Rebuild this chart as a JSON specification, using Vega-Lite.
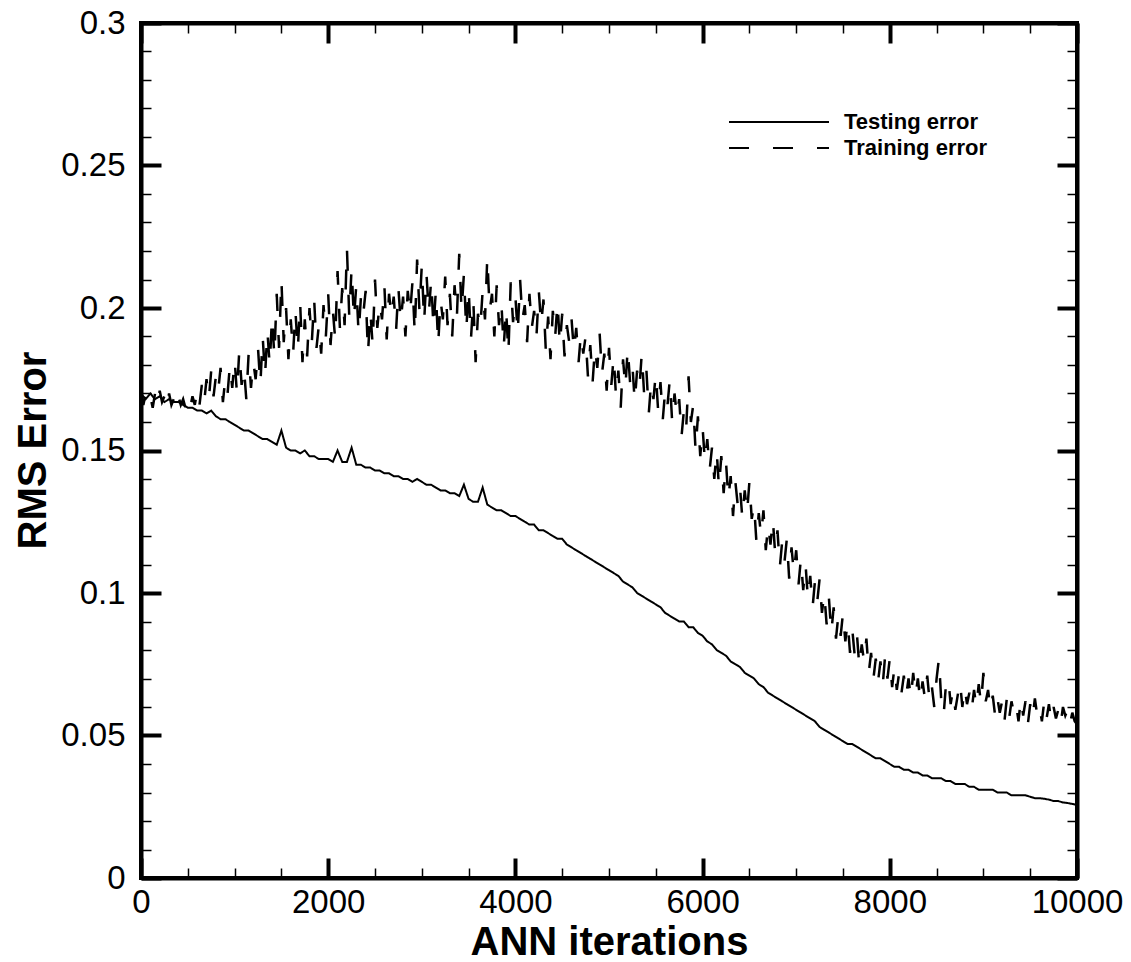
{
  "$schema": "https://vega.github.io/schema/vega-lite/v6.json",
  "width": 936,
  "height": 855,
  "autosize": {"type": "none"},
  "padding": {"left": 141, "top": 23, "right": 54, "bottom": 84},
  "background": "white",
  "config": {
    "view": {"stroke": "black", "strokeWidth": 4},
    "font": "Liberation Sans"
  },
  "datasets": {
    "test": [
      {"it":0,"e":0.170},{"it":50,"e":0.168},{"it":100,"e":0.170},{"it":150,"e":0.168},{"it":200,"e":0.169},{"it":250,"e":0.167},{"it":300,"e":0.168},{"it":350,"e":0.167},{"it":400,"e":0.167},{"it":450,"e":0.166},
      {"it":500,"e":0.165},{"it":550,"e":0.165},{"it":600,"e":0.164},{"it":650,"e":0.164},{"it":700,"e":0.163},{"it":750,"e":0.164},{"it":800,"e":0.162},{"it":850,"e":0.161},{"it":900,"e":0.161},{"it":950,"e":0.160},
      {"it":1000,"e":0.159},{"it":1050,"e":0.158},{"it":1100,"e":0.157},{"it":1150,"e":0.157},{"it":1200,"e":0.156},{"it":1250,"e":0.155},{"it":1300,"e":0.154},{"it":1350,"e":0.154},{"it":1400,"e":0.153},{"it":1450,"e":0.152},
      {"it":1500,"e":0.157},{"it":1550,"e":0.151},{"it":1600,"e":0.150},{"it":1650,"e":0.150},{"it":1700,"e":0.149},{"it":1750,"e":0.150},{"it":1800,"e":0.148},{"it":1850,"e":0.148},{"it":1900,"e":0.147},{"it":1950,"e":0.147},
      {"it":2000,"e":0.147},{"it":2050,"e":0.146},{"it":2100,"e":0.150},{"it":2150,"e":0.146},{"it":2200,"e":0.146},{"it":2250,"e":0.151},{"it":2300,"e":0.145},{"it":2350,"e":0.145},{"it":2400,"e":0.144},{"it":2450,"e":0.144},
      {"it":2500,"e":0.143},{"it":2550,"e":0.143},{"it":2600,"e":0.142},{"it":2650,"e":0.142},{"it":2700,"e":0.141},{"it":2750,"e":0.141},{"it":2800,"e":0.140},{"it":2850,"e":0.140},{"it":2900,"e":0.139},{"it":2950,"e":0.140},
      {"it":3000,"e":0.139},{"it":3050,"e":0.138},{"it":3100,"e":0.138},{"it":3150,"e":0.137},{"it":3200,"e":0.136},{"it":3250,"e":0.136},{"it":3300,"e":0.135},{"it":3350,"e":0.135},{"it":3400,"e":0.134},{"it":3450,"e":0.138},
      {"it":3500,"e":0.133},{"it":3550,"e":0.132},{"it":3600,"e":0.132},{"it":3650,"e":0.137},{"it":3700,"e":0.131},{"it":3750,"e":0.130},{"it":3800,"e":0.129},{"it":3850,"e":0.129},{"it":3900,"e":0.128},{"it":3950,"e":0.127},
      {"it":4000,"e":0.127},{"it":4050,"e":0.126},{"it":4100,"e":0.125},{"it":4150,"e":0.124},{"it":4200,"e":0.124},{"it":4250,"e":0.122},{"it":4300,"e":0.122},{"it":4350,"e":0.121},{"it":4400,"e":0.120},{"it":4450,"e":0.119},
      {"it":4500,"e":0.119},{"it":4550,"e":0.117},{"it":4600,"e":0.116},{"it":4650,"e":0.115},{"it":4700,"e":0.114},{"it":4750,"e":0.113},{"it":4800,"e":0.112},{"it":4850,"e":0.111},{"it":4900,"e":0.110},{"it":4950,"e":0.109},
      {"it":5000,"e":0.108},{"it":5050,"e":0.107},{"it":5100,"e":0.106},{"it":5150,"e":0.104},{"it":5200,"e":0.103},{"it":5250,"e":0.102},{"it":5300,"e":0.100},{"it":5350,"e":0.099},{"it":5400,"e":0.098},{"it":5450,"e":0.097},
      {"it":5500,"e":0.096},{"it":5550,"e":0.095},{"it":5600,"e":0.093},{"it":5650,"e":0.092},{"it":5700,"e":0.091},{"it":5750,"e":0.090},{"it":5800,"e":0.090},{"it":5850,"e":0.088},{"it":5900,"e":0.088},{"it":5950,"e":0.086},
      {"it":6000,"e":0.085},{"it":6050,"e":0.083},{"it":6100,"e":0.082},{"it":6150,"e":0.080},{"it":6200,"e":0.079},{"it":6250,"e":0.078},{"it":6300,"e":0.076},{"it":6350,"e":0.075},{"it":6400,"e":0.074},{"it":6450,"e":0.072},
      {"it":6500,"e":0.071},{"it":6550,"e":0.070},{"it":6600,"e":0.068},{"it":6650,"e":0.067},{"it":6700,"e":0.065},{"it":6750,"e":0.064},{"it":6800,"e":0.063},{"it":6850,"e":0.062},{"it":6900,"e":0.061},{"it":6950,"e":0.060},
      {"it":7000,"e":0.059},{"it":7050,"e":0.058},{"it":7100,"e":0.057},{"it":7150,"e":0.056},{"it":7200,"e":0.055},{"it":7250,"e":0.053},{"it":7300,"e":0.052},{"it":7350,"e":0.051},{"it":7400,"e":0.050},{"it":7450,"e":0.049},
      {"it":7500,"e":0.048},{"it":7550,"e":0.047},{"it":7600,"e":0.047},{"it":7650,"e":0.046},{"it":7700,"e":0.045},{"it":7750,"e":0.044},{"it":7800,"e":0.043},{"it":7850,"e":0.042},{"it":7900,"e":0.042},{"it":7950,"e":0.041},
      {"it":8000,"e":0.040},{"it":8050,"e":0.039},{"it":8100,"e":0.039},{"it":8150,"e":0.038},{"it":8200,"e":0.038},{"it":8250,"e":0.037},{"it":8300,"e":0.037},{"it":8350,"e":0.036},{"it":8400,"e":0.036},{"it":8450,"e":0.035},
      {"it":8500,"e":0.035},{"it":8550,"e":0.035},{"it":8600,"e":0.034},{"it":8650,"e":0.034},{"it":8700,"e":0.033},{"it":8750,"e":0.033},{"it":8800,"e":0.033},{"it":8850,"e":0.032},{"it":8900,"e":0.032},{"it":8950,"e":0.031},
      {"it":9000,"e":0.031},{"it":9050,"e":0.031},{"it":9100,"e":0.031},{"it":9150,"e":0.030},{"it":9200,"e":0.030},{"it":9250,"e":0.030},{"it":9300,"e":0.029},{"it":9350,"e":0.029},{"it":9400,"e":0.029},{"it":9450,"e":0.029},
      {"it":9500,"e":0.0285},{"it":9550,"e":0.028},{"it":9600,"e":0.028},{"it":9650,"e":0.0278},{"it":9700,"e":0.0275},{"it":9750,"e":0.027},{"it":9800,"e":0.027},{"it":9850,"e":0.0265},{"it":9900,"e":0.0263},{"it":9950,"e":0.026},{"it":10000,"e":0.0256}
    ],
    "train": [
      {"it":0,"e":0.170},{"it":25,"e":0.166},{"it":50,"e":0.170},{"it":75,"e":0.167},{"it":100,"e":0.169},{"it":125,"e":0.165},{"it":150,"e":0.170},{"it":175,"e":0.166},{"it":200,"e":0.171},{"it":225,"e":0.167},
      {"it":250,"e":0.169},{"it":275,"e":0.165},{"it":300,"e":0.170},{"it":325,"e":0.166},{"it":350,"e":0.168},{"it":375,"e":0.165},{"it":400,"e":0.169},{"it":425,"e":0.166},{"it":450,"e":0.168},{"it":475,"e":0.165},
      {"it":500,"e":0.168},{"it":525,"e":0.165},{"it":550,"e":0.169},{"it":575,"e":0.166},{"it":600,"e":0.171},{"it":625,"e":0.166},{"it":650,"e":0.173},{"it":675,"e":0.167},{"it":700,"e":0.175},{"it":725,"e":0.168},
      {"it":750,"e":0.178},{"it":775,"e":0.169},{"it":800,"e":0.176},{"it":825,"e":0.171},{"it":850,"e":0.179},{"it":875,"e":0.167},{"it":900,"e":0.175},{"it":925,"e":0.170},{"it":950,"e":0.180},{"it":975,"e":0.172},
      {"it":1000,"e":0.182},{"it":1025,"e":0.170},{"it":1050,"e":0.185},{"it":1075,"e":0.173},{"it":1100,"e":0.179},{"it":1125,"e":0.168},{"it":1150,"e":0.184},{"it":1175,"e":0.172},{"it":1200,"e":0.181},{"it":1225,"e":0.175},
      {"it":1250,"e":0.186},{"it":1275,"e":0.173},{"it":1300,"e":0.190},{"it":1325,"e":0.176},{"it":1350,"e":0.192},{"it":1375,"e":0.180},{"it":1400,"e":0.197},{"it":1425,"e":0.183},{"it":1450,"e":0.205},{"it":1475,"e":0.186},
      {"it":1500,"e":0.210},{"it":1525,"e":0.188},{"it":1550,"e":0.200},{"it":1575,"e":0.182},{"it":1600,"e":0.196},{"it":1625,"e":0.184},{"it":1650,"e":0.199},{"it":1675,"e":0.185},{"it":1700,"e":0.202},{"it":1725,"e":0.181},
      {"it":1750,"e":0.196},{"it":1775,"e":0.183},{"it":1800,"e":0.200},{"it":1825,"e":0.188},{"it":1850,"e":0.203},{"it":1875,"e":0.186},{"it":1900,"e":0.194},{"it":1925,"e":0.184},{"it":1950,"e":0.201},{"it":1975,"e":0.190},
      {"it":2000,"e":0.205},{"it":2025,"e":0.187},{"it":2050,"e":0.199},{"it":2075,"e":0.189},{"it":2100,"e":0.213},{"it":2125,"e":0.193},{"it":2150,"e":0.207},{"it":2175,"e":0.194},{"it":2200,"e":0.221},{"it":2225,"e":0.197},
      {"it":2250,"e":0.214},{"it":2275,"e":0.196},{"it":2300,"e":0.208},{"it":2325,"e":0.191},{"it":2350,"e":0.204},{"it":2375,"e":0.198},{"it":2400,"e":0.206},{"it":2425,"e":0.184},{"it":2450,"e":0.199},{"it":2475,"e":0.187},
      {"it":2500,"e":0.210},{"it":2525,"e":0.193},{"it":2550,"e":0.202},{"it":2575,"e":0.196},{"it":2600,"e":0.208},{"it":2625,"e":0.189},{"it":2650,"e":0.205},{"it":2675,"e":0.197},{"it":2700,"e":0.204},{"it":2725,"e":0.192},
      {"it":2750,"e":0.207},{"it":2775,"e":0.195},{"it":2800,"e":0.204},{"it":2825,"e":0.190},{"it":2850,"e":0.206},{"it":2875,"e":0.198},{"it":2900,"e":0.209},{"it":2925,"e":0.191},{"it":2950,"e":0.217},{"it":2975,"e":0.199},
      {"it":3000,"e":0.215},{"it":3025,"e":0.195},{"it":3050,"e":0.212},{"it":3075,"e":0.198},{"it":3100,"e":0.210},{"it":3125,"e":0.193},{"it":3150,"e":0.206},{"it":3175,"e":0.187},{"it":3200,"e":0.203},{"it":3225,"e":0.196},
      {"it":3250,"e":0.211},{"it":3275,"e":0.194},{"it":3300,"e":0.205},{"it":3325,"e":0.190},{"it":3350,"e":0.208},{"it":3375,"e":0.197},{"it":3400,"e":0.219},{"it":3425,"e":0.199},{"it":3450,"e":0.212},{"it":3475,"e":0.192},
      {"it":3500,"e":0.207},{"it":3525,"e":0.189},{"it":3550,"e":0.203},{"it":3575,"e":0.181},{"it":3600,"e":0.198},{"it":3625,"e":0.193},{"it":3650,"e":0.206},{"it":3675,"e":0.196},{"it":3700,"e":0.218},{"it":3725,"e":0.199},
      {"it":3750,"e":0.205},{"it":3775,"e":0.190},{"it":3800,"e":0.208},{"it":3825,"e":0.194},{"it":3850,"e":0.202},{"it":3875,"e":0.186},{"it":3900,"e":0.200},{"it":3925,"e":0.184},{"it":3950,"e":0.209},{"it":3975,"e":0.195},
      {"it":4000,"e":0.204},{"it":4025,"e":0.191},{"it":4050,"e":0.210},{"it":4075,"e":0.196},{"it":4100,"e":0.201},{"it":4125,"e":0.188},{"it":4150,"e":0.205},{"it":4175,"e":0.193},{"it":4200,"e":0.199},{"it":4225,"e":0.190},
      {"it":4250,"e":0.206},{"it":4275,"e":0.194},{"it":4300,"e":0.203},{"it":4325,"e":0.185},{"it":4350,"e":0.197},{"it":4375,"e":0.182},{"it":4400,"e":0.199},{"it":4425,"e":0.190},{"it":4450,"e":0.202},{"it":4475,"e":0.187},
      {"it":4500,"e":0.198},{"it":4525,"e":0.183},{"it":4550,"e":0.194},{"it":4575,"e":0.188},{"it":4600,"e":0.196},{"it":4625,"e":0.185},{"it":4650,"e":0.193},{"it":4675,"e":0.181},{"it":4700,"e":0.191},{"it":4725,"e":0.184},
      {"it":4750,"e":0.190},{"it":4775,"e":0.176},{"it":4800,"e":0.187},{"it":4825,"e":0.174},{"it":4850,"e":0.186},{"it":4875,"e":0.179},{"it":4900,"e":0.191},{"it":4925,"e":0.177},{"it":4950,"e":0.184},{"it":4975,"e":0.171},
      {"it":5000,"e":0.186},{"it":5025,"e":0.173},{"it":5050,"e":0.183},{"it":5075,"e":0.169},{"it":5100,"e":0.178},{"it":5125,"e":0.165},{"it":5150,"e":0.182},{"it":5175,"e":0.172},{"it":5200,"e":0.186},{"it":5225,"e":0.174},
      {"it":5250,"e":0.180},{"it":5275,"e":0.167},{"it":5300,"e":0.178},{"it":5325,"e":0.172},{"it":5350,"e":0.184},{"it":5375,"e":0.170},{"it":5400,"e":0.178},{"it":5425,"e":0.163},{"it":5450,"e":0.174},{"it":5475,"e":0.168},
      {"it":5500,"e":0.177},{"it":5525,"e":0.164},{"it":5550,"e":0.174},{"it":5575,"e":0.161},{"it":5600,"e":0.171},{"it":5625,"e":0.166},{"it":5650,"e":0.175},{"it":5675,"e":0.160},{"it":5700,"e":0.170},{"it":5725,"e":0.162},
      {"it":5750,"e":0.168},{"it":5775,"e":0.155},{"it":5800,"e":0.164},{"it":5825,"e":0.158},{"it":5850,"e":0.176},{"it":5875,"e":0.160},{"it":5900,"e":0.166},{"it":5925,"e":0.150},{"it":5950,"e":0.162},{"it":5975,"e":0.148},
      {"it":6000,"e":0.158},{"it":6025,"e":0.146},{"it":6050,"e":0.154},{"it":6075,"e":0.143},{"it":6100,"e":0.151},{"it":6125,"e":0.140},{"it":6150,"e":0.150},{"it":6175,"e":0.137},{"it":6200,"e":0.148},{"it":6225,"e":0.135},
      {"it":6250,"e":0.146},{"it":6275,"e":0.133},{"it":6300,"e":0.141},{"it":6325,"e":0.127},{"it":6350,"e":0.139},{"it":6375,"e":0.131},{"it":6400,"e":0.137},{"it":6425,"e":0.126},{"it":6450,"e":0.136},{"it":6475,"e":0.128},
      {"it":6500,"e":0.139},{"it":6525,"e":0.126},{"it":6550,"e":0.131},{"it":6575,"e":0.118},{"it":6600,"e":0.128},{"it":6625,"e":0.120},{"it":6650,"e":0.129},{"it":6675,"e":0.115},{"it":6700,"e":0.124},{"it":6725,"e":0.117},
      {"it":6750,"e":0.126},{"it":6775,"e":0.114},{"it":6800,"e":0.122},{"it":6825,"e":0.109},{"it":6850,"e":0.118},{"it":6875,"e":0.111},{"it":6900,"e":0.119},{"it":6925,"e":0.105},{"it":6950,"e":0.116},{"it":6975,"e":0.107},
      {"it":7000,"e":0.115},{"it":7025,"e":0.103},{"it":7050,"e":0.112},{"it":7075,"e":0.101},{"it":7100,"e":0.110},{"it":7125,"e":0.098},{"it":7150,"e":0.106},{"it":7175,"e":0.095},{"it":7200,"e":0.104},{"it":7225,"e":0.097},
      {"it":7250,"e":0.105},{"it":7275,"e":0.093},{"it":7300,"e":0.100},{"it":7325,"e":0.089},{"it":7350,"e":0.098},{"it":7375,"e":0.086},{"it":7400,"e":0.095},{"it":7425,"e":0.084},{"it":7450,"e":0.092},{"it":7475,"e":0.085},
      {"it":7500,"e":0.093},{"it":7525,"e":0.083},{"it":7550,"e":0.090},{"it":7575,"e":0.079},{"it":7600,"e":0.087},{"it":7625,"e":0.078},{"it":7650,"e":0.085},{"it":7675,"e":0.074},{"it":7700,"e":0.082},{"it":7725,"e":0.076},
      {"it":7750,"e":0.084},{"it":7775,"e":0.072},{"it":7800,"e":0.079},{"it":7825,"e":0.070},{"it":7850,"e":0.077},{"it":7875,"e":0.069},{"it":7900,"e":0.076},{"it":7925,"e":0.068},{"it":7950,"e":0.078},{"it":7975,"e":0.070},
      {"it":8000,"e":0.077},{"it":8025,"e":0.067},{"it":8050,"e":0.074},{"it":8075,"e":0.066},{"it":8100,"e":0.072},{"it":8125,"e":0.065},{"it":8150,"e":0.071},{"it":8175,"e":0.064},{"it":8200,"e":0.070},{"it":8225,"e":0.063},
      {"it":8250,"e":0.072},{"it":8275,"e":0.064},{"it":8300,"e":0.070},{"it":8325,"e":0.062},{"it":8350,"e":0.069},{"it":8375,"e":0.063},{"it":8400,"e":0.071},{"it":8425,"e":0.062},{"it":8450,"e":0.067},{"it":8475,"e":0.060},
      {"it":8500,"e":0.070},{"it":8525,"e":0.077},{"it":8550,"e":0.062},{"it":8575,"e":0.057},{"it":8600,"e":0.068},{"it":8625,"e":0.070},{"it":8650,"e":0.061},{"it":8675,"e":0.066},{"it":8700,"e":0.059},{"it":8725,"e":0.064},
      {"it":8750,"e":0.069},{"it":8775,"e":0.060},{"it":8800,"e":0.067},{"it":8825,"e":0.061},{"it":8850,"e":0.065},{"it":8875,"e":0.059},{"it":8900,"e":0.066},{"it":8925,"e":0.060},{"it":8950,"e":0.068},{"it":8975,"e":0.061},
      {"it":9000,"e":0.072},{"it":9025,"e":0.062},{"it":9050,"e":0.066},{"it":9075,"e":0.059},{"it":9100,"e":0.064},{"it":9125,"e":0.057},{"it":9150,"e":0.063},{"it":9175,"e":0.058},{"it":9200,"e":0.062},{"it":9225,"e":0.055},
      {"it":9250,"e":0.063},{"it":9275,"e":0.056},{"it":9300,"e":0.062},{"it":9325,"e":0.058},{"it":9350,"e":0.061},{"it":9375,"e":0.055},{"it":9400,"e":0.063},{"it":9425,"e":0.057},{"it":9450,"e":0.062},{"it":9475,"e":0.054},
      {"it":9500,"e":0.061},{"it":9525,"e":0.056},{"it":9550,"e":0.063},{"it":9575,"e":0.057},{"it":9600,"e":0.060},{"it":9625,"e":0.055},{"it":9650,"e":0.062},{"it":9675,"e":0.056},{"it":9700,"e":0.061},{"it":9725,"e":0.055},
      {"it":9750,"e":0.060},{"it":9775,"e":0.056},{"it":9800,"e":0.059},{"it":9825,"e":0.054},{"it":9850,"e":0.060},{"it":9875,"e":0.057},{"it":9900,"e":0.059},{"it":9925,"e":0.054},{"it":9950,"e":0.058},{"it":9975,"e":0.055},{"it":10000,"e":0.054}
    ]
  },
  "layer": [
    {
      "data": {"name": "test"},
      "mark": {"type": "line", "color": "black", "strokeWidth": 2},
      "encoding": {
        "x": {"field": "it", "type": "quantitative", "scale": {"domain": [0, 10000], "nice": false, "zero": false},
          "axis": {"orient": "bottom", "values": [0, 2000, 4000, 6000, 8000, 10000], "format": "d", "tickSize": -20, "tickWidth": 4, "tickColor": "black",
            "domain": true, "domainWidth": 4, "domainColor": "black", "grid": false,
            "labelFontSize": 33, "labelColor": "black", "labelFont": "Liberation Sans", "labelPadding": 28, "labelFlush": false, "labelOverlap": false,
            "title": "ANN iterations", "titleFontSize": 40, "titleFontWeight": "bold", "titleColor": "black", "titleFont": "Liberation Sans",
            "titleBaseline": "alphabetic", "titleAlign": "center", "titleX": 468, "titleY": 76}},
        "y": {"field": "e", "type": "quantitative", "scale": {"domain": [0, 0.3], "nice": false},
          "axis": {"orient": "left", "values": [0, 0.05, 0.1, 0.15, 0.2, 0.25, 0.3], "format": "~g", "tickSize": -20, "tickWidth": 4, "tickColor": "black",
            "domain": true, "domainWidth": 4, "domainColor": "black", "grid": false,
            "labelFontSize": 33, "labelColor": "black", "labelFont": "Liberation Sans", "labelPadding": 36, "labelFlush": false, "labelOverlap": false,
            "title": "RMS Error", "titleFontSize": 40, "titleFontWeight": "bold", "titleColor": "black", "titleFont": "Liberation Sans",
            "titleBaseline": "alphabetic", "titleAlign": "center", "titleAngle": -90, "titleX": -96, "titleY": 427}},
        "strokeDash": {"datum": "Testing error", "type": "nominal",
          "scale": {"domain": ["Testing error", "Training error"], "range": [[1, 0], [20, 24]]},
          "legend": {"title": null, "orient": "none", "legendX": 627, "legendY": 88, "symbolType": "M-5,0H5", "symbolSize": 400,
            "symbolStrokeWidth": 2, "symbolStrokeColor": "black", "labelFontSize": 22, "labelFontWeight": "bold", "labelFont": "Liberation Sans",
            "labelColor": "black", "labelOffset": 54, "padding": 0, "rowPadding": 4}}
      }
    },
    {
      "data": {"name": "train"},
      "mark": {"type": "line", "color": "black", "strokeWidth": 2.5},
      "encoding": {
        "x": {"field": "it", "type": "quantitative",
          "axis": {"orient": "top", "values": [0, 2000, 4000, 6000, 8000, 10000], "tickSize": -20, "tickWidth": 4, "tickColor": "black",
            "domain": true, "domainWidth": 4, "domainColor": "black", "grid": false, "labels": false, "title": null}},
        "y": {"field": "e", "type": "quantitative",
          "axis": {"orient": "right", "values": [0, 0.05, 0.1, 0.15, 0.2, 0.25, 0.3], "tickSize": -20, "tickWidth": 4, "tickColor": "black",
            "domain": true, "domainWidth": 4, "domainColor": "black", "grid": false, "labels": false, "title": null}},
        "strokeDash": {"datum": "Training error", "type": "nominal"}
      }
    },
    {
      "data": {"name": "test"},
      "mark": {"type": "point", "opacity": 0},
      "encoding": {
        "x": {"field": "it", "type": "quantitative",
          "axis": {"orient": "bottom", "values": [500, 1000, 1500, 2500, 3000, 3500, 4500, 5000, 5500, 6500, 7000, 7500, 8500, 9000, 9500], "tickSize": -10, "tickWidth": 1.5, "tickColor": "black",
            "domain": false, "grid": false, "labels": false, "title": null}},
        "y": {"field": "e", "type": "quantitative",
          "axis": {"orient": "left", "values": [0.01, 0.02, 0.03, 0.04, 0.06, 0.07, 0.08, 0.09, 0.11, 0.12, 0.13, 0.14, 0.16, 0.17, 0.18, 0.19, 0.21, 0.22, 0.23, 0.24, 0.26, 0.27, 0.28, 0.29], "tickSize": -10, "tickWidth": 1.5, "tickColor": "black",
            "domain": false, "grid": false, "labels": false, "title": null}}
      }
    },
    {
      "data": {"name": "test"},
      "mark": {"type": "point", "opacity": 0},
      "encoding": {
        "x": {"field": "it", "type": "quantitative",
          "axis": {"orient": "top", "values": [500, 1000, 1500, 2500, 3000, 3500, 4500, 5000, 5500, 6500, 7000, 7500, 8500, 9000, 9500], "tickSize": -10, "tickWidth": 1.5, "tickColor": "black",
            "domain": false, "grid": false, "labels": false, "title": null}},
        "y": {"field": "e", "type": "quantitative",
          "axis": {"orient": "right", "values": [0.01, 0.02, 0.03, 0.04, 0.06, 0.07, 0.08, 0.09, 0.11, 0.12, 0.13, 0.14, 0.16, 0.17, 0.18, 0.19, 0.21, 0.22, 0.23, 0.24, 0.26, 0.27, 0.28, 0.29], "tickSize": -10, "tickWidth": 1.5, "tickColor": "black",
            "domain": false, "grid": false, "labels": false, "title": null}}
      }
    }
  ],
  "resolve": {"axis": {"x": "independent", "y": "independent"}}
}
